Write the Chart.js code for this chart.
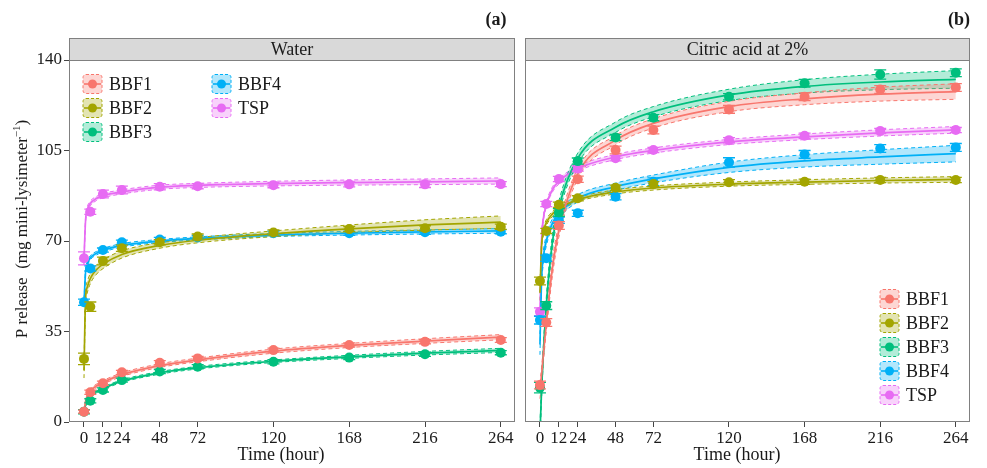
<!DOCTYPE html>
<html>
<head>
<meta charset="utf-8">
<script src="https://cdn.jsdelivr.net/npm/chart.js@4.4.1/dist/chart.umd.min.js"></script>
<style>
  html, body { margin: 0; padding: 0; background: #fff; }
  #wrap { position: relative; width: 987px; height: 468px; }
  canvas { position: absolute; top: 0; }
  #waterChart { left: 0; }
  #citricChart { left: 520px; }
</style>
</head>
<body>
<div id="wrap">
  <canvas id="waterChart" width="520" height="468"></canvas>
  <canvas id="citricChart" width="467" height="468"></canvas>
</div>
<script>
// sampling times (hour)
const obsTimes = [0, 4, 12, 24, 48, 72, 120, 168, 216, 264];
const fitTimes = [0, 1, 2, 4, 8, 12, 24, 48, 72, 120, 168, 216, 264];
const xTicks = [0, 12, 24, 48, 72, 120, 168, 216, 264];
const seriesNames = ['BBF1', 'BBF2', 'BBF3', 'BBF4', 'TSP'];

// Water - observed means, error bars, fitted curve, confidence half width
const waterBBF1 = [4.0, 11.5, 15.0, 19.2, 22.9, 24.6, 27.8, 29.8, 31.0, 31.7];
const waterBBF2 = [24.4, 44.6, 62.3, 67.2, 69.5, 71.7, 73.3, 74.6, 74.9, 75.5];
const waterBBF3 = [4.0, 8.2, 12.4, 16.2, 19.5, 21.4, 23.3, 24.9, 26.2, 26.8];
const waterBBF4 = [46.3, 59.4, 66.5, 69.5, 70.6, 71.4, 73.0, 73.0, 73.4, 73.6];
const waterTSP = [63.3, 81.3, 88.2, 89.7, 91.0, 91.2, 91.6, 91.9, 91.9, 92.0];

const waterBBF1Err = [0.6, 0.8, 0.8, 0.8, 0.8, 0.8, 0.8, 0.8, 0.8, 0.9];
const waterBBF2Err = [2.2, 1.8, 1.5, 1.2, 1.0, 1.0, 1.0, 1.0, 1.0, 1.0];
const waterBBF3Err = [0.8, 0.8, 0.8, 0.8, 0.8, 0.8, 0.8, 0.8, 0.8, 0.8];
const waterBBF4Err = [1.2, 1.0, 0.8, 0.8, 0.8, 0.8, 0.8, 0.8, 0.8, 0.8];
const waterTSPErr = [2.5, 1.0, 1.5, 1.5, 1.2, 1.0, 1.0, 1.0, 1.2, 1.0];

const waterBBF1Fit = [4, 8, 10, 12, 14, 15.3, 18.3, 21.8, 24, 27.4, 29.6, 31.3, 32.8];
const waterBBF2Fit = [20, 48, 52, 55.5, 59, 61, 64.8, 68.3, 70.3, 72.8, 74.7, 76.2, 77.3];
const waterBBF3Fit = [4, 6.5, 8, 10, 11.8, 13, 15.8, 19, 21, 23.5, 25.2, 26.6, 27.7];
const waterBBF4Fit = [46, 58, 61, 63.5, 65.3, 66.4, 68.3, 70, 71, 72.3, 73, 73.5, 73.9];
const waterTSPFit = [63, 78, 82, 84.5, 86.5, 87.5, 89, 90.8, 91.5, 92.2, 92.6, 92.9, 93.2];

const waterBBF1Band = [0.5, 0.6, 0.6, 0.7, 0.7, 0.7, 0.7, 0.7, 0.7, 0.8, 0.8, 0.9, 1.0];
const waterBBF2Band = [3, 2.5, 2.2, 2, 1.8, 1.7, 1.4, 1.1, 1.0, 1.1, 1.5, 2.0, 2.4];
const waterBBF3Band = [0.5, 0.5, 0.5, 0.5, 0.5, 0.5, 0.5, 0.5, 0.5, 0.5, 0.6, 0.7, 0.8];
const waterBBF4Band = [1.5, 1.2, 1, 0.8, 0.7, 0.7, 0.7, 0.6, 0.6, 0.6, 0.7, 0.8, 0.9];
const waterTSPBand = [1.5, 1.2, 1, 0.9, 0.8, 0.8, 0.8, 0.8, 0.8, 0.9, 1, 1.1, 1.2];

// Citric acid at 2%
const citricBBF1 = [14.3, 38.5, 76, 93.9, 105.2, 112.9, 120.9, 125.8, 128.6, 129.4];
const citricBBF2 = [54.5, 73.9, 84, 86.5, 90.6, 92.0, 92.7, 92.9, 93.6, 93.6];
const citricBBF3 = [13.3, 45, 81, 100.9, 110, 117.7, 125.8, 131, 134.4, 135.1];
const citricBBF4 = [39.4, 63.3, 78, 80.7, 87.1, 92.9, 100.4, 103.5, 105.8, 106.2];
const citricTSP = [42.6, 84.3, 94, 98, 102, 105.2, 109, 110.7, 112.5, 112.9];

const citricBBF1Err = [1.5, 1.5, 1.5, 1.2, 1.5, 1.5, 1.5, 1.5, 1.5, 1.5];
const citricBBF2Err = [1.5, 1.0, 1.0, 1.0, 1.0, 1.0, 1.0, 1.0, 1.0, 1.0];
const citricBBF3Err = [2.0, 1.5, 1.5, 1.2, 1.2, 1.2, 1.2, 1.5, 1.8, 1.5];
const citricBBF4Err = [1.5, 1.2, 1.2, 1.2, 1.2, 1.5, 1.8, 1.5, 1.5, 1.5];
const citricTSPErr = [1.5, 1.0, 1.0, 1.0, 1.0, 1.0, 1.0, 1.0, 1.0, 1.0];

const citricBBF1Fit = [12, 18, 25, 38, 60, 74, 96, 109, 115.5, 122, 125, 126.8, 127.8];
const citricBBF2Fit = [50, 68, 73, 77, 80.5, 82.5, 86, 89, 90.5, 92, 92.8, 93.4, 93.8];
const citricBBF3Fit = [-5, 12, 25, 45, 70, 83, 102, 114, 120, 126.5, 129.8, 131.5, 132.5];
const citricBBF4Fit = [30, 55, 63, 70, 77, 80.5, 86.5, 91, 94, 98.5, 101, 102.5, 103.8];
const citricTSPFit = [40, 70, 78, 84, 90, 93, 98, 102.5, 105, 108.3, 110.3, 111.8, 113];

const citricBBF1Band = [3, 3, 3, 3, 3, 2.5, 2, 1.8, 1.8, 2, 2.3, 2.7, 3];
const citricBBF2Band = [3, 2, 1.5, 1.2, 1, 1, 0.8, 0.8, 0.8, 0.8, 0.9, 1, 1.1];
const citricBBF3Band = [4, 3.5, 3, 3, 3, 2.5, 2, 2, 2, 2.2, 2.6, 3, 3.4];
const citricBBF4Band = [4, 3, 2.5, 2, 1.8, 1.6, 1.4, 1.4, 1.5, 2, 2.4, 2.8, 3.2];
const citricTSPBand = [2, 1.5, 1.2, 1, 1, 1, 1, 1, 1, 1, 1.1, 1.2, 1.3];

const colors = ['#F8766D', '#A3A500', '#00BF7D', '#00B0F6', '#E76BF3'];
const FONT = '"Liberation Serif", "Times New Roman", serif';
const INK = '#1a1a1a';

function rgba(hex, a) {
  const n = parseInt(hex.slice(1), 16);
  return `rgba(${(n >> 16) & 255}, ${(n >> 8) & 255}, ${n & 255}, ${a})`;
}

function buildDatasets(obs, errs, fits, bands) {
  const sets = [];
  seriesNames.forEach((name, i) => {
    const col = colors[i];
    const line = { pointRadius: 0, cubicInterpolationMode: 'monotone', borderColor: col };
    sets.push(Object.assign({}, line, {
      label: name + ' lower',
      data: fitTimes.map((t, k) => ({ x: t, y: fits[i][k] - bands[i][k] })),
      borderWidth: 1, borderDash: [4, 3], fill: false, order: 3
    }));
    sets.push(Object.assign({}, line, {
      label: name + ' upper',
      data: fitTimes.map((t, k) => ({ x: t, y: fits[i][k] + bands[i][k] })),
      borderWidth: 1, borderDash: [4, 3], fill: '-1', backgroundColor: rgba(col, 0.3), order: 3
    }));
    sets.push(Object.assign({}, line, {
      label: name + ' fit',
      data: fitTimes.map((t, k) => ({ x: t, y: fits[i][k] })),
      borderWidth: 1.7, fill: false, order: 2
    }));
    sets.push({
      label: name,
      data: obsTimes.map((t, k) => ({ x: t, y: obs[i][k] })),
      showLine: false, pointRadius: 5, pointHoverRadius: 5,
      backgroundColor: col, borderColor: col, borderWidth: 0,
      errs: errs[i], order: 1
    });
  });
  return sets;
}

// error bars drawn just before their points
const errorBars = {
  id: 'errorBars',
  beforeDatasetDraw(chart, args) {
    const ds = chart.data.datasets[args.index];
    if (!ds.errs) return;
    const xs = chart.scales.x, ys = chart.scales.y, ctx = chart.ctx;
    ctx.save();
    ctx.strokeStyle = ds.borderColor;
    ctx.lineWidth = 1.3;
    ds.data.forEach((p, k) => {
      const e = ds.errs[k];
      const px = xs.getPixelForValue(p.x);
      const y1 = ys.getPixelForValue(p.y + e), y2 = ys.getPixelForValue(p.y - e);
      ctx.beginPath();
      ctx.moveTo(px, y1); ctx.lineTo(px, y2);
      ctx.moveTo(px - 6, y1); ctx.lineTo(px + 6, y1);
      ctx.moveTo(px - 6, y2); ctx.lineTo(px + 6, y2);
      ctx.stroke();
    });
    ctx.restore();
  }
};

function drawKey(ctx, x, yc, col, name) {
  const s = 19;
  ctx.save();
  ctx.beginPath();
  ctx.roundRect(x, yc - s / 2, s, s, 3);
  ctx.fillStyle = rgba(col, 0.3);
  ctx.fill();
  ctx.setLineDash([3, 2]);
  ctx.strokeStyle = col;
  ctx.lineWidth = 1;
  ctx.stroke();
  ctx.setLineDash([]);
  ctx.lineWidth = 1.6;
  ctx.beginPath();
  ctx.moveTo(x + 1, yc); ctx.lineTo(x + s - 1, yc);
  ctx.stroke();
  ctx.fillStyle = col;
  ctx.beginPath();
  ctx.arc(x + s / 2, yc, 4.5, 0, Math.PI * 2);
  ctx.fill();
  ctx.fillStyle = INK;
  ctx.font = '18px ' + FONT;
  ctx.textAlign = 'left';
  ctx.textBaseline = 'middle';
  ctx.fillText(name, x + s + 7, yc + 1);
  ctx.restore();
}

// strip header, panel frame, tag, legend, axis titles
const panelDecor = {
  id: 'panelDecor',
  afterDraw(chart, args, opts) {
    const { ctx, chartArea: a } = chart;
    ctx.save();
    // strip
    ctx.fillStyle = '#d9d9d9';
    ctx.fillRect(a.left, 38, a.right - a.left, a.top - 38);
    ctx.strokeStyle = '#808080';
    ctx.lineWidth = 1;
    ctx.strokeRect(a.left + 0.5, 38.5, a.right - a.left - 1, a.top - 38);
    ctx.strokeRect(a.left + 0.5, a.top + 0.5, a.right - a.left - 1, a.bottom - a.top - 1);
    ctx.fillStyle = INK;
    ctx.font = '18px ' + FONT;
    ctx.textAlign = 'center';
    ctx.textBaseline = 'middle';
    ctx.fillText(opts.strip, (a.left + a.right) / 2, 50);
    // x title
    ctx.fillText('Time (hour)', a.left + 212, 455);
    // tag
    ctx.font = 'bold 18px ' + FONT;
    ctx.fillText(opts.tag, opts.tagX, 20);
    ctx.restore();
    // legend
    opts.legend.forEach((it) => {
      drawKey(ctx, it.x(a), it.y(a), colors[it.i], seriesNames[it.i]);
    });
    if (opts.yTitle) {
      ctx.save();
      ctx.translate(23, 229);
      ctx.rotate(-Math.PI / 2);
      ctx.fillStyle = INK;
      ctx.textBaseline = 'middle';
      ctx.textAlign = 'left';
      const main = 'P release  (mg mini-lysimeter', sup = '\u22121', close = ')';
      ctx.font = '17px ' + FONT;
      const w1 = ctx.measureText(main).width, w3 = ctx.measureText(close).width;
      ctx.font = '11px ' + FONT;
      const w2 = ctx.measureText(sup).width;
      let x = -(w1 + w2 + w3) / 2;
      ctx.font = '17px ' + FONT;
      ctx.fillText(main, x, 0); x += w1;
      ctx.font = '11px ' + FONT;
      ctx.fillText(sup, x, -6); x += w2;
      ctx.font = '17px ' + FONT;
      ctx.fillText(close, x, 0);
      ctx.restore();
    }
  }
};

function makeChart(id, datasets, showY, pad, decor) {
  return new Chart(document.getElementById(id), {
    type: 'line',
    data: { datasets },
    plugins: [errorBars, panelDecor],
    options: {
      responsive: false,
      animation: false,
      layout: { padding: pad },
      plugins: { legend: { display: false }, tooltip: { enabled: false }, panelDecor: decor },
      scales: {
        x: {
          type: 'linear', min: -9.5, max: 273,
          afterBuildTicks: (s) => { s.ticks = xTicks.map((v) => ({ value: v })); },
          afterFit: (s) => { s.height = 46; },
          grid: { drawOnChartArea: false, drawTicks: true, tickLength: 5, color: '#444' },
          border: { display: false },
          ticks: { autoSkip: false, maxRotation: 0, padding: 1, color: INK, font: { size: 17, family: FONT } }
        },
        y: {
          display: showY, min: 0, max: 140,
          afterFit: (s) => { s.width = showY ? 69 : 0; },
          grid: { drawOnChartArea: false, drawTicks: true, tickLength: 5, color: '#444' },
          border: { display: false },
          ticks: { stepSize: 35, padding: 2, color: INK, font: { size: 17, family: FONT } }
        }
      }
    }
  });
}

makeChart('waterChart',
  buildDatasets(
    [waterBBF1, waterBBF2, waterBBF3, waterBBF4, waterTSP],
    [waterBBF1Err, waterBBF2Err, waterBBF3Err, waterBBF4Err, waterTSPErr],
    [waterBBF1Fit, waterBBF2Fit, waterBBF3Fit, waterBBF4Fit, waterTSPFit],
    [waterBBF1Band, waterBBF2Band, waterBBF3Band, waterBBF4Band, waterTSPBand]),
  true, { top: 60, right: 4, left: 0, bottom: 0 },
  {
    strip: 'Water', tag: '(a)', tagX: 496, yTitle: true,
    legend: [0, 1, 2, 3, 4].map((i) => ({
      i,
      x: (a) => a.left + (i < 3 ? 14 : 143),
      y: (a) => a.top + 24 + 24 * (i < 3 ? i : i - 3)
    }))
  });

makeChart('citricChart',
  buildDatasets(
    [citricBBF1, citricBBF2, citricBBF3, citricBBF4, citricTSP],
    [citricBBF1Err, citricBBF2Err, citricBBF3Err, citricBBF4Err, citricTSPErr],
    [citricBBF1Fit, citricBBF2Fit, citricBBF3Fit, citricBBF4Fit, citricTSPFit],
    [citricBBF1Band, citricBBF2Band, citricBBF3Band, citricBBF4Band, citricTSPBand]),
  false, { top: 60, right: 17, left: 3, bottom: 0 },
  {
    strip: 'Citric acid at 2%', tag: '(b)', tagX: 439, yTitle: false,
    legend: [0, 1, 2, 3, 4].map((i) => ({
      i,
      x: (a) => a.right - 90,
      y: (a) => a.bottom - 123 + 24 * i
    }))
  });
</script>
</body>
</html>
